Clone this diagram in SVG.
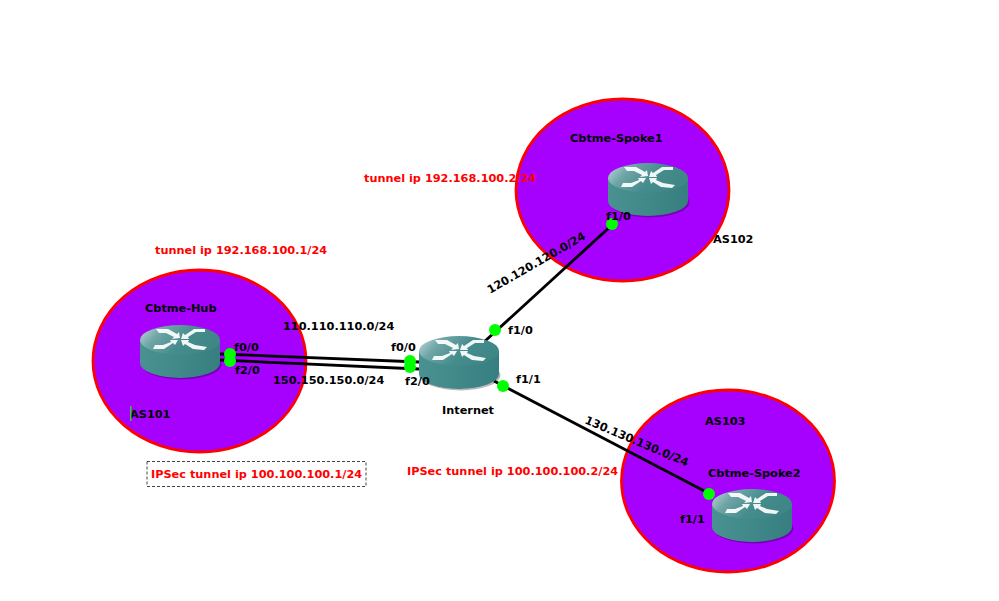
<svg xmlns="http://www.w3.org/2000/svg" width="999" height="601" viewBox="0 0 999 601">
<defs>
<linearGradient id="top" x1="0" y1="0" x2="1" y2="0.35"><stop offset="0" stop-color="#c4dcdc"/><stop offset="0.3" stop-color="#6fa5a6"/><stop offset="0.65" stop-color="#458c8d"/><stop offset="1" stop-color="#3f8687"/></linearGradient>
<linearGradient id="side" x1="0" y1="0" x2="1" y2="0"><stop offset="0" stop-color="#4a9192"/><stop offset="1" stop-color="#377e80"/></linearGradient>
<g id="router">
<ellipse cx="1.500" cy="12.500" rx="40" ry="15" fill="#000" fill-opacity="0.28"/>
<path d="M-40 -12V11A40 15 0 0 0 40 11V-12Z" fill="url(#side)"/>
<ellipse cx="0" cy="-12" rx="40" ry="15" fill="url(#top)"/>
<path d="M-24 -23L-12 -23L-3 -18L-1 -20L0 -14L-8 -13L-6 -15L-14 -19L-21 -19Z M25 -23L14 -23L5 -17L3 -19L1 -13L9 -13L8 -15L16 -20L25 -20Z M-27 -3L-16 -3L-7 -9L-5 -7L-2 -12L-10 -12L-9 -10L-17 -7L-25 -7Z M24 -2L13 -3L5 -8L3 -6L1 -12L9 -12L8 -10L15 -7L27 -5Z" fill="#fff" fill-opacity="0.92"/>
</g>
</defs>
<style>
text{font-family:"DejaVu Sans",Verdana,sans-serif;font-size:11.3px;font-weight:700;fill:#000}
.r{fill:#f00}
.as{fill:#a600ff;stroke:#f00;stroke-width:2.800}
.l{stroke:#000;stroke-width:2.800;fill:none}
.p{fill:#0f0}
</style>
<rect width="999" height="601" fill="#fff"/>
<g id="as-areas">
<ellipse id="area-hub" class="as" cx="199.500" cy="361" rx="106.500" ry="91"/>
<ellipse id="area-spoke1" class="as" cx="622.500" cy="190" rx="106.500" ry="91"/>
<ellipse id="area-spoke2" class="as" cx="728" cy="481" rx="106.500" ry="91"/>
</g>
<g id="connectors">
<line class="l" x1="220" y1="354" x2="419" y2="362"/>
<line class="l" x1="220" y1="360" x2="419" y2="369"/>
<line class="l" x1="484" y1="342" x2="612" y2="225"/>
<line class="l" x1="494" y1="381" x2="712" y2="495"/>
</g>
<g id="node-hub"><use href="#router" x="180" y="352"/><text x="145" y="312">Cbtme-Hub</text></g>
<g id="node-internet"><use href="#router" x="459" y="363"/><text x="442" y="414">Internet</text></g>
<g id="node-spoke1"><use href="#router" x="648" y="190"/><text x="570" y="142">Cbtme-Spoke1</text></g>
<g id="node-spoke2"><use href="#router" x="752" y="516"/><text x="708" y="477">Cbtme-Spoke2</text></g>
<g id="ports">
<circle class="p" cx="230" cy="354" r="6"/><circle class="p" cx="230" cy="361" r="6"/>
<circle class="p" cx="410" cy="361" r="6"/><circle class="p" cx="410" cy="367" r="6"/>
<circle class="p" cx="495" cy="330" r="6"/><circle class="p" cx="503" cy="386" r="6"/>
<circle class="p" cx="612" cy="224" r="6"/><circle class="p" cx="709" cy="494" r="6"/>
</g>
<g id="labels">
<text x="234" y="351">f0/0</text><text x="235" y="374">f2/0</text>
<text x="391" y="351">f0/0</text><text x="405" y="385">f2/0</text>
<text x="508" y="334">f1/0</text><text x="516" y="383">f1/1</text>
<text x="606" y="220">f1/0</text><text x="680" y="523">f1/1</text>
<text x="283" y="330">110.110.110.0/24</text><text x="273" y="384">150.150.150.0/24</text>
<text transform="translate(490 294) rotate(-30)">120.120.120.0/24</text>
<text transform="translate(584 423) rotate(23)">130.130.130.0/24</text>
<text x="130" y="418">AS101</text><text x="713" y="243">AS102</text><text x="705" y="425">AS103</text>
<text class="r" x="155" y="254">tunnel ip 192.168.100.1/24</text>
<text class="r" x="364" y="182">tunnel ip 192.168.100.2/24</text>
<text class="r" x="407" y="475">IPSec tunnel ip 100.100.100.2/24</text>
<text class="r" x="151" y="478">IPSec tunnel ip 100.100.100.1/24</text>
<rect x="147" y="461.500" width="219" height="25" fill="none" stroke="#444" stroke-dasharray="3 2"/>
<rect x="130" y="406" width="1.500" height="15" fill="#3c3"/>
</g>
</svg>
